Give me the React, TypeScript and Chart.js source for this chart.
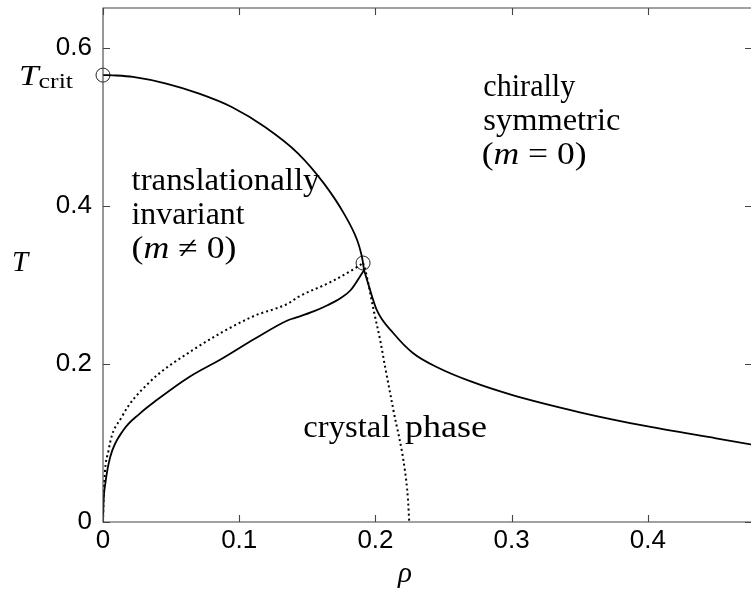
import React, { useEffect, useRef } from "react";
import { Chart, registerables } from "chart.js";

Chart.register(...registerables);

// ---- data ----
const upperRho = [0, 0.01, 0.022, 0.0464, 0.0706, 0.0945, 0.1189, 0.1431, 0.1624, 0.177, 0.1866, 0.1895, 0.1909, 0.1916];
const upperT = [0.566, 0.5655, 0.5637, 0.5553, 0.5426, 0.5257, 0.5003, 0.467, 0.4282, 0.3902, 0.3568, 0.34, 0.328, 0.319];

const lowerRho = [0, 0.0004, 0.0017, 0.0053, 0.0149, 0.027, 0.0392, 0.0633, 0.0875, 0.1117, 0.1358, 0.1433, 0.155, 0.1648, 0.174, 0.1817, 0.1916];
const lowerT = [0, 0.025, 0.0486, 0.0823, 0.1161, 0.1373, 0.1541, 0.1837, 0.207, 0.2323, 0.2555, 0.2597, 0.267, 0.2745, 0.283, 0.2935, 0.319];

const rightRho = [0.1916, 0.1946, 0.2011, 0.2132, 0.2277, 0.2468, 0.27, 0.3, 0.35, 0.4, 0.45, 0.48];
const rightT = [0.319, 0.3021, 0.2679, 0.239, 0.2137, 0.1947, 0.178, 0.161, 0.139, 0.121, 0.106, 0.097];

const dotLeftRho = [0, 0.0005, 0.0041, 0.0138, 0.0331, 0.0657, 0.1092, 0.1358, 0.1433, 0.1672, 0.1866, 0.1909];
const dotLeftT = [0, 0.035, 0.0908, 0.133, 0.1753, 0.2175, 0.2597, 0.2766, 0.285, 0.304, 0.323, 0.328];

const dotDownRho = [0.1909, 0.1926, 0.1987, 0.2035, 0.2071, 0.2132, 0.2216, 0.2238, 0.2248];
const dotDownT = [0.328, 0.3188, 0.268, 0.23, 0.1963, 0.1415, 0.0655, 0.03, 0];

const markerRho = [0, 0.1909];
const markerT = [0.566, 0.328];

const xTicks = [0, 0.1, 0.2, 0.3, 0.4];
const yTicks = [0, 0.2, 0.4, 0.6];
const X_MIN = 0;
const X_MAX = 0.4764;
const Y_MIN = 0;
const Y_MAX = 0.651;

const zip = (xs: number[], ys: number[]) => xs.map((x, i) => ({ x, y: ys[i] }));

const SERIF = '"Liberation Serif", "Times New Roman", serif';

type Run = { t: string; f: string; dy?: number };
function drawRuns(ctx: CanvasRenderingContext2D, x: number, y: number, runs: Run[], targetW?: number) {
  let total = 0;
  for (const r of runs) {
    ctx.font = r.f;
    total += ctx.measureText(r.t).width;
  }
  const sx = targetW ? targetW / total : 1;
  ctx.save();
  ctx.translate(x, y);
  ctx.scale(sx, 1);
  let cx = 0;
  for (const r of runs) {
    ctx.font = r.f;
    ctx.fillText(r.t, cx, r.dy || 0);
    cx += ctx.measureText(r.t).width;
  }
  ctx.restore();
}

const framePlugin = {
  id: "frameAndText",
  afterDraw(chart: any) {
    const ctx: CanvasRenderingContext2D = chart.ctx;
    const { left, right, top, bottom } = chart.chartArea;
    const xs = chart.scales.x;
    const ys = chart.scales.y;
    ctx.save();
    ctx.strokeStyle = "#444";
    ctx.lineWidth = 1.1;
    ctx.beginPath();
    ctx.rect(left, top, right - left, bottom - top);
    ctx.stroke();
    const tl = 7;
    ctx.beginPath();
    for (const v of xTicks) {
      const px = Math.round(xs.getPixelForValue(v)) + 0.5;
      ctx.moveTo(px, bottom);
      ctx.lineTo(px, bottom - tl);
      ctx.moveTo(px, top);
      ctx.lineTo(px, top + tl);
    }
    for (const v of yTicks) {
      const py = Math.round(ys.getPixelForValue(v)) + 0.5;
      ctx.moveTo(left, py);
      ctx.lineTo(left + tl, py);
      ctx.moveTo(right, py);
      ctx.lineTo(right - tl, py);
    }
    ctx.stroke();

    ctx.fillStyle = "#000";
    ctx.textBaseline = "alphabetic";
    ctx.textAlign = "left";
    const rom = `31px ${SERIF}`;
    const ita = `italic 31px ${SERIF}`;
    drawRuns(ctx, 131.5, 189.5, [{ t: "translationally", f: rom }], 188);
    drawRuns(ctx, 131.5, 223.5, [{ t: "invariant", f: rom }], 113);
    drawRuns(ctx, 131.5, 258, [
      { t: "(", f: rom },
      { t: "m", f: ita },
      { t: " \u2260 0)", f: rom },
    ], 105);
    drawRuns(ctx, 483.3, 96, [{ t: "chirally", f: rom }], 92);
    drawRuns(ctx, 483.3, 130, [{ t: "symmetric", f: rom }], 137);
    drawRuns(ctx, 481.7, 163.5, [
      { t: "(", f: rom },
      { t: "m", f: ita },
      { t: " = 0)", f: rom },
    ], 105);
    drawRuns(ctx, 303.3, 437, [{ t: "crystal", f: rom }], 87);
    drawRuns(ctx, 405, 437, [{ t: "phase", f: rom }], 82);
    drawRuns(ctx, 19, 85, [
      { t: "T", f: `italic 30px ${SERIF}` },
      { t: "crit", f: `22px ${SERIF}`, dy: 3 },
    ], 54);
    drawRuns(ctx, 12, 270.5, [{ t: "T", f: `italic 29px ${SERIF}` }]);
    ctx.textAlign = "center";
    ctx.font = `italic 29px ${SERIF}`;
    ctx.fillText("\u03c1", 405, 582);
    ctx.restore();
  },
};

export default function App() {
  const ref = useRef<HTMLCanvasElement>(null);
  useEffect(() => {
    if (!ref.current) return;
    const tickFont = { family: '"Liberation Sans", Arial, sans-serif', size: 26 };
    const line = (xs: number[], ys: number[], dotted: boolean) => ({
      data: zip(xs, ys),
      showLine: true,
      borderColor: "#000",
      borderWidth: dotted ? 2 : 1.8,
      borderDash: dotted ? [2, 3] : [],
      pointRadius: 0,
      cubicInterpolationMode: "monotone",
      fill: false,
    });
    const chart = new Chart(ref.current, {
      type: "scatter",
      data: {
        datasets: [
          line(upperRho, upperT, false),
          line(lowerRho, lowerT, false),
          line(rightRho, rightT, false),
          line(dotLeftRho, dotLeftT, true),
          line(dotDownRho, dotDownT, true),
          { data: zip(markerRho, markerT), showLine: false, pointRadius: 7, pointBorderWidth: 1, pointBorderColor: "#222", pointBackgroundColor: "rgba(0,0,0,0)", borderColor: "#222", backgroundColor: "rgba(0,0,0,0)", clip: false },
        ] as any,
      },
      options: {
        animation: false,
        responsive: false,
        devicePixelRatio: 1,
        layout: { padding: { top: 8, left: 0, right: 0, bottom: 0 } },
        plugins: { legend: { display: false }, tooltip: { enabled: false } },
        scales: {
          x: {
            type: "linear",
            min: X_MIN,
            max: X_MAX,
            grid: { display: false, drawTicks: false },
            border: { display: false },
            afterBuildTicks: (s: any) => { s.ticks = xTicks.map((v) => ({ value: v })); },
            ticks: { font: tickFont, color: "#000", padding: 3, maxRotation: 0, autoSkip: false, callback: (v: any) => String(Math.round(Number(v) * 10) / 10) },
            afterFit: (s: any) => { s.height = 70; s.paddingLeft = 0; s.paddingRight = 0; },
          },
          y: {
            type: "linear",
            min: Y_MIN,
            max: Y_MAX,
            grid: { display: false, drawTicks: false },
            border: { display: false },
            afterBuildTicks: (s: any) => { s.ticks = yTicks.map((v) => ({ value: v })); },
            ticks: { font: tickFont, color: "#000", padding: 11, autoSkip: false, callback: (v: any) => String(Math.round(Number(v) * 10) / 10) },
            afterFit: (s: any) => { s.width = 103; s.paddingTop = 0; s.paddingBottom = 0; },
          },
        },
      } as any,
      plugins: [framePlugin],
    });
    return () => chart.destroy();
  }, []);
  return (
    <div style={{ position: "fixed", left: 0, top: 0, width: 751, height: 592, overflow: "hidden", background: "#fff" }}>
      <canvas ref={ref} width={760} height={592} style={{ width: 760, height: 592, display: "block" }} />
    </div>
  );
}
